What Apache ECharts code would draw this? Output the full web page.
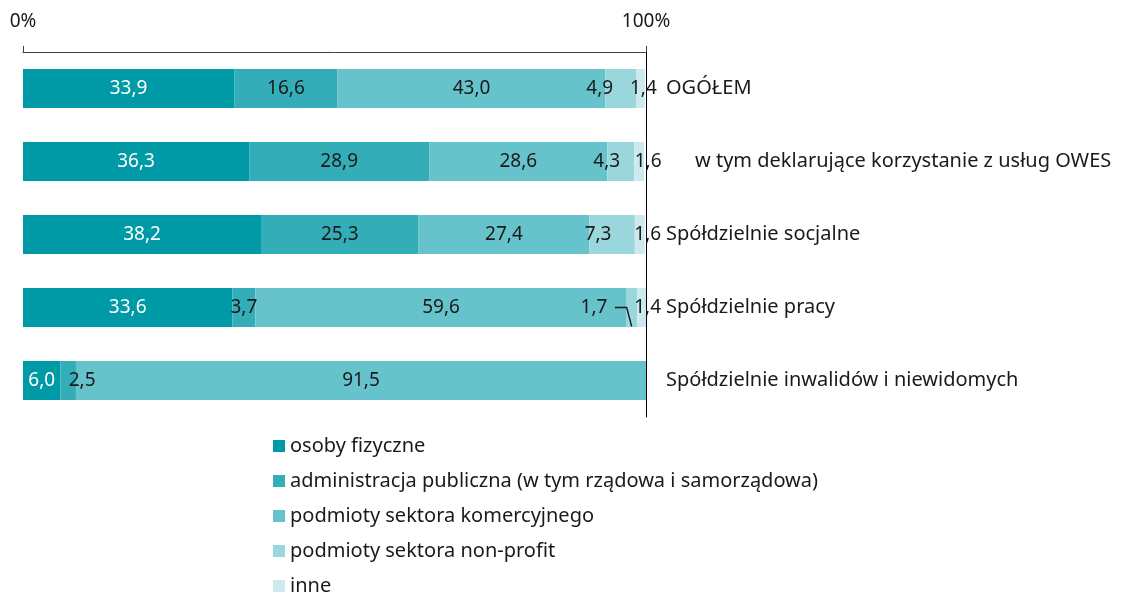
<!DOCTYPE html>
<html>
<head>
<meta charset="utf-8">
<script src="https://cdn.jsdelivr.net/npm/echarts@6/dist/echarts.min.js"></script>
<style>
  html, body { margin: 0; padding: 0; background: #fff; }
  #main { width: 1125px; height: 593px; }
</style>
</head>
<body>
<div id="main"></div>
<script>
// categories (top to bottom) and shares in %
var categories = [
  "OGÓŁEM",
  "w tym deklarujące korzystanie z usług OWES",
  "Spółdzielnie socjalne",
  "Spółdzielnie pracy",
  "Spółdzielnie inwalidów i niewidomych"
];
var seriesNames = [
  "osoby fizyczne",
  "administracja publiczna (w tym rządowa i samorządowa)",
  "podmioty sektora komercyjnego",
  "podmioty sektora non-profit",
  "inne"
];
var osobyFizyczne = [33.9, 36.3, 38.2, 33.6, 6.0];
var administracja = [16.6, 28.9, 25.3, 3.7, 2.5];
var komercyjne = [43.0, 28.6, 27.4, 59.6, 91.5];
var nonProfit = [4.9, 4.3, 7.3, 1.7, 0];
var inne = [1.4, 1.6, 1.6, 1.4, 0];
var xTickLabels = ["0%", "100%"];

var colors = ["#009aa6", "#33aeb8", "#66c2cb", "#99d7dc", "#cceaed"];
var fontFamily = "'Noto Sans', sans-serif";

// label shifts (px) per series / row, to follow the original placement
var labelShift = [
  [0, 0, 0, 0, 0],
  [0, 0, 0, 0, 14],
  [0, 0, 0, 0, 0],
  [-21, -14, -14, -38, 0],
  [3, 9, 8, 6, 0]
];
// extra left padding of the category names
var catPad = [0, 29, 0, 0, 0];

var chart = echarts.init(document.getElementById("main"));

var allValues = [osobyFizyczne, administracja, komercyjne, nonProfit, inne];

var series = allValues.map(function(vals, si) {
  return {
    name: seriesNames[si],
    type: "bar",
    stack: "total",
    barWidth: 39,
    itemStyle: { color: colors[si] },
    label: {
      show: true,
      position: "inside",
      color: si === 0 ? "#ffffff" : "#1a1a1a",
      fontFamily: fontFamily,
      fontSize: 19,
      formatter: function(p) {
        if (!p.value) return "";
        return p.value.toFixed(1).replace(".", ",");
      }
    },
    labelLayout: function(p) {
      return { dx: labelShift[si][p.dataIndex] };
    },
    data: vals
  };
});

chart.setOption({
  backgroundColor: "#ffffff",
  animation: false,
  textStyle: { fontFamily: fontFamily },
  grid: {
    left: 23,
    right: 479,
    top: 52,
    bottom: 176
  },
  legend: {
    orient: "vertical",
    left: 268,
    top: 431,
    height: 220,
    itemWidth: 12,
    itemHeight: 12,
    itemGap: 15,
    icon: "rect",
    textStyle: {
      color: "#1a1a1a",
      fontSize: 20,
      lineHeight: 20,
      fontFamily: fontFamily
    },
    data: seriesNames
  },
  xAxis: {
    type: "value",
    position: "top",
    min: 0,
    max: 100,
    interval: 100,
    axisLine: { show: true, lineStyle: { color: "#404040", width: 1 } },
    axisTick: { show: true, length: 6, lineStyle: { color: "#404040" } },
    splitLine: { show: false },
    axisLabel: {
      margin: 21,
      color: "#1a1a1a",
      fontSize: 19,
      fontFamily: fontFamily,
      formatter: function(v) {
        return v === 0 ? xTickLabels[0] : xTickLabels[1];
      }
    }
  },
  yAxis: {
    type: "category",
    inverse: true,
    position: "right",
    data: categories,
    axisLine: { show: true, onZero: false, lineStyle: { color: "#000000", width: 1 } },
    axisTick: { show: false },
    axisLabel: {
      margin: 20,
      color: "#1a1a1a",
      fontSize: 20,
      fontFamily: fontFamily,
      formatter: function(v, i) {
        return catPad[i] ? "{far|" + v + "}" : v;
      },
      rich: {
        far: {
          padding: [0, 0, 0, 29],
          fontSize: 20,
          color: "#1a1a1a",
          fontFamily: fontFamily
        }
      }
    }
  },
  series: series
});

// leader line for the small "1,7" label (row "Spółdzielnie pracy"),
// positioned through the chart's own scales
function drawLeader() {
  var row = 3;
  var segStart = osobyFizyczne[row] + administracja[row] + komercyjne[row];
  var segEnd = segStart + nonProfit[row];
  var pStart = chart.convertToPixel({ gridIndex: 0 }, [segStart, row]);
  var pEnd = chart.convertToPixel({ gridIndex: 0 }, [segEnd, row]);
  var segCenter = (pStart[0] + pEnd[0]) / 2;
  var labelRight = segCenter + labelShift[3][row] + 21;
  var y = pStart[1];
  chart.setOption({
    graphic: [{
      type: "polyline",
      shape: {
        points: [
          [labelRight, y],
          [pStart[0], y],
          [pStart[0] + 5, y + 19]
        ]
      },
      style: { stroke: "#1a1a1a", lineWidth: 1.4, fill: null },
      z: 10
    }]
  });
}
drawLeader();

window.onresize = function() {
  chart.resize();
  drawLeader();
};
</script>
</body>
</html>
